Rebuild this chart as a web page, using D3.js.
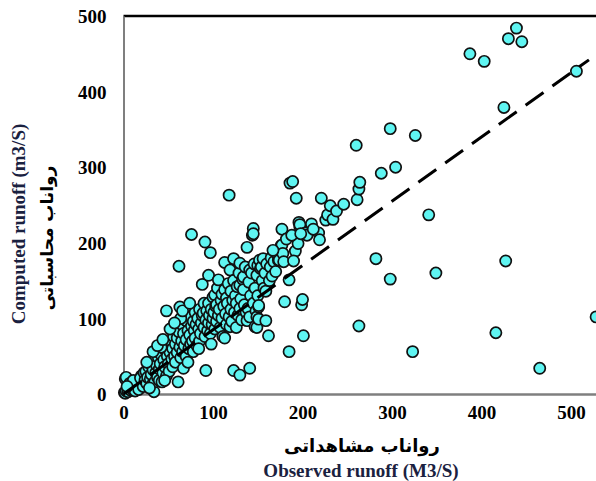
<!DOCTYPE html>
<html>
<head>
<meta charset="utf-8">
<script src="https://cdn.jsdelivr.net/npm/d3@7"></script>
<style>
  body { margin: 0; background: #fff; }
  svg { display: block; }
</style>
</head>
<body>
<div id="chart"></div>
<script>
// observed / computed runoff pairs (m3/s)
const observed = [
  1, 2, 3, 5, 2, 3, 6, 8, 9, 10, 12, 14, 15, 16, 18, 20, 20, 7, 11, 13, 4, 17, 19,
  22, 23, 24, 25, 26, 27, 28, 30, 30, 31, 32, 33, 34, 35, 35, 36, 37, 38, 39, 40, 40, 29, 26,
  41, 42, 43, 44, 45, 46, 47, 48, 48, 49, 50, 50, 51, 52, 53, 54, 55, 55, 56, 57, 58, 58, 59, 60, 60, 42, 46,
  61, 62, 62, 63, 63, 64, 65, 65, 66, 67, 67, 68, 69, 70, 70, 71, 72, 73, 74, 75, 75, 76, 76, 77, 78, 78, 79, 80, 80, 64, 72,
  81, 82, 83, 84, 85, 85, 86, 87, 88, 88, 89, 90, 90, 91, 91, 92, 92, 93, 94, 95, 95, 95, 96, 97, 97, 98, 99, 100, 100, 84, 98,
  101, 102, 102, 103, 104, 104, 105, 106, 106, 107, 108, 109, 110, 110, 111, 112, 113, 113, 113, 114, 115, 115, 116, 117, 118, 118, 119, 119, 120, 120,
  121, 122, 123, 123, 123, 124, 125, 126, 126, 127, 128, 129, 130, 130, 130, 130, 131, 132, 133, 134, 134, 135, 136, 137, 138, 138, 139, 140, 141, 141, 141, 142, 143, 144, 145, 145, 145, 146, 147, 147, 148, 149, 149, 149, 150, 150,
  151, 151, 151, 152, 153, 154, 155, 156, 157, 158, 159, 159, 160, 162, 163, 164, 165, 166, 168, 170, 172, 173, 174, 176, 177, 177, 178, 179, 180, 167,
  185, 185, 186, 189, 192, 193, 195, 196, 197, 197, 199, 200, 201, 203, 218, 219, 221, 226, 228, 231, 234, 238, 246, 182, 188, 205, 210, 212, 190, 198,
  260, 261, 263, 264, 263, 282, 288, 298, 298, 304, 323, 326, 341, 349, 387, 403, 416, 425, 427, 430, 439, 445, 465, 506, 528,
  33, 38, 44, 52, 57, 66, 74
];
const computed = [
  2, 1, 4, 3, 20, 22, 8, 5, 12, 6, 10, 15, 8, 18, 12, 16, 24, 14, 18, 4, 10, 6, 21,
  10, 28, 18, 30, 14, 22, 36, 20, 40, 26, 12, 32, 3, 16, 45, 28, 38, 22, 48, 33, 18, 8, 42,
  40, 52, 16, 28, 45, 36, 58, 110, 24, 50, 40, 64, 30, 55, 70, 46, 36, 60, 76, 50, 42, 66, 88, 55, 74, 62, 18,
  16, 169, 82, 115, 62, 48, 70, 92, 56, 34, 80, 64, 98, 72, 50, 96, 84, 60, 78, 102, 66, 211, 90, 70, 96, 56, 84, 74, 108, 100, 42,
  92, 64, 100, 86, 112, 70, 80, 94, 145, 104, 107, 88, 120, 201, 76, 31, 98, 110, 84, 157, 120, 94, 104, 187, 80, 112, 92, 128, 100, 60, 66,
  108, 131, 86, 116, 118, 96, 140, 151, 104, 112, 88, 124, 100, 132, 76, 116, 138, 174, 74, 106, 127, 92, 120, 146, 263, 102, 164, 89, 112, 136,
  96, 124, 31, 179, 150, 108, 130, 120, 88, 142, 104, 160, 173, 144, 113, 25, 126, 98, 152, 155, 138, 118, 168, 108, 97, 194, 113, 148, 164, 102, 34, 130, 160, 210, 219, 212, 120, 172, 89, 140, 110, 157, 102, 88, 130, 170,
  115, 99, 117, 177, 166, 168, 150, 179, 140, 160, 136, 97, 172, 77, 150, 168, 180, 156, 175, 162, 184, 177, 177, 196, 218, 197, 186, 175, 122, 190,
  151, 56, 279, 281, 189, 259, 199, 227, 221, 224, 118, 125, 77, 213, 213, 204, 259, 230, 237, 249, 231, 242, 251, 205, 210, 210, 225, 218, 176, 212,
  329, 257, 271, 280, 90, 179, 292, 351, 152, 300, 56, 342, 237, 160, 450, 440, 81, 379, 176, 470, 484, 466, 34, 427, 102,
  56, 64, 72, 86, 94, 110, 120
];
// dashed trend line end points
const fitX = [0, 520];
const fitY = [0, 442];
const xTicks = [0, 100, 200, 300, 400, 500];
const yTicks = [0, 100, 200, 300, 400, 500];

const width = 596, height = 481;

var svg = d3.select("#chart")
  .append("svg")
  .attr("width", width)
  .attr("height", height);

var x = d3.scaleLinear().domain([0, 530]).range([123.5, 597.9]);
var y = d3.scaleLinear().domain([0, 500]).range([394, 16]);

// top border
svg.append("line")
  .attr("x1", x(0)).attr("x2", width)
  .attr("y1", y(500)).attr("y2", y(500))
  .attr("stroke", "#000").attr("stroke-width", 2.5);

// x-axis
var gx = svg.append("g")
  .attr("transform", "translate(0," + y(0) + ")")
  .call(d3.axisBottom(x).tickValues(xTicks).tickSize(0).tickPadding(12));
gx.select(".domain").attr("stroke", "#7f7f7f").attr("stroke-width", 2.5);

// y-axis
var gy = svg.append("g")
  .attr("transform", "translate(" + x(0) + ",0)")
  .call(d3.axisLeft(y).tickValues(yTicks).tickSize(0).tickPadding(17));
gy.select(".domain").attr("stroke", "#7f7f7f").attr("stroke-width", 2);

svg.selectAll(".tick text")
  .attr("font-family", "'Liberation Serif', 'Times New Roman', serif")
  .attr("font-weight", "bold")
  .attr("font-size", 19)
  .attr("fill", "#000");
gy.selectAll(".tick text").attr("dy", "0.35em");

// points
var pts = d3.range(observed.length).map(i => [observed[i], computed[i]]);
svg.append("g")
  .selectAll("circle")
  .data(pts)
  .enter()
  .append("circle")
  .attr("cx", d => x(d[0]))
  .attr("cy", d => y(d[1]))
  .attr("r", 5.6)
  .attr("fill", "#5ff5f2")
  .attr("stroke", "#111")
  .attr("stroke-width", 1.7);

// dashed line
svg.append("line")
  .attr("x1", x(fitX[0])).attr("y1", y(fitY[0]))
  .attr("x2", x(fitX[1])).attr("y2", y(fitY[1]))
  .attr("stroke", "#000")
  .attr("stroke-width", 3)
  .attr("stroke-dasharray", "22,11");

// axis titles
svg.append("text")
  .attr("x", 362).attr("y", 452)
  .attr("text-anchor", "middle")
  .attr("font-family", "'DejaVu Sans', sans-serif")
  .attr("font-weight", "bold")
  .attr("font-size", 18)
  .attr("fill", "#000")
  .text("رواناب مشاهداتی");

svg.append("text")
  .attr("x", 361).attr("y", 477)
  .attr("text-anchor", "middle")
  .attr("font-family", "'Liberation Serif', 'Times New Roman', serif")
  .attr("font-weight", "bold")
  .attr("font-size", 19)
  .attr("fill", "#1a2140")
  .text("Observed runoff (M3/S)");

svg.append("text")
  .attr("transform", "translate(25,224) rotate(-90)")
  .attr("text-anchor", "middle")
  .attr("font-family", "'Liberation Serif', 'Times New Roman', serif")
  .attr("font-weight", "bold")
  .attr("font-size", 19)
  .attr("fill", "#1a2140")
  .text("Computed runoff (m3/S)");

svg.append("text")
  .attr("transform", "translate(53,238) rotate(-90)")
  .attr("text-anchor", "middle")
  .attr("font-family", "'DejaVu Sans', sans-serif")
  .attr("font-weight", "bold")
  .attr("font-size", 17)
  .attr("fill", "#000")
  .text("رواناب محاسباتی");
</script>
</body>
</html>
